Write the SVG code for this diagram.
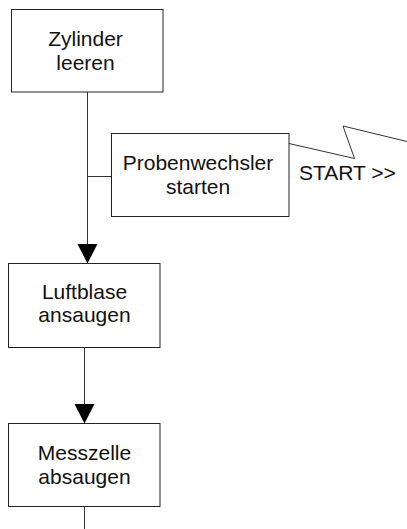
<svg xmlns="http://www.w3.org/2000/svg" width="407" height="529" viewBox="0 0 407 529">
  <style>
    .box { fill: #ffffff; stroke: #222222; stroke-width: 1; }
    .lbl { font-family: "Liberation Sans", Arial, sans-serif; font-size: 21px; fill: #111111; text-anchor: middle; }
    .line { fill: none; stroke: #333333; stroke-width: 1; }
    .head { fill: #000000; }
  </style>
  <rect width="407" height="529" fill="#ffffff"/>

  <!-- connectors -->
  <g id="connectors">
    <path class="line" d="M87.5 92 V245"/>
    <path class="line" d="M87.5 176.5 H111.5"/>
    <polygon class="head" points="77.5,244 97.5,244 87.5,263.5"/>
    <path class="line" d="M84.5 347.5 V405"/>
    <polygon class="head" points="74.5,404 94.5,404 84.5,423.5"/>
    <path class="line" d="M84.5 506.5 V529"/>
    <!-- signal line out of the sample changer -->
    <polyline class="line" points="289,143.5 354.5,158.5 343,126 407,141.5"/>
    <text class="lbl" x="299" y="180" style="text-anchor:start">START &gt;&gt;</text>
  </g>

  <g id="zylinder-leeren">
    <rect class="box" x="11.5" y="9.5" width="151.5" height="82.5"/>
    <text class="lbl" x="85.5" y="46">Zylinder</text>
    <text class="lbl" x="85.5" y="70">leeren</text>
  </g>

  <g id="probenwechsler-starten">
    <rect class="box" x="111.5" y="133.5" width="177.5" height="83"/>
    <text class="lbl" x="198" y="170">Probenwechsler</text>
    <text class="lbl" x="198" y="193.5">starten</text>
  </g>

  <g id="luftblase-ansaugen">
    <rect class="box" x="8.5" y="263.5" width="151.5" height="84"/>
    <text class="lbl" x="84.5" y="298.5">Luftblase</text>
    <text class="lbl" x="84.5" y="322">ansaugen</text>
  </g>

  <g id="messzelle-absaugen">
    <rect class="box" x="8.5" y="423.5" width="151.5" height="83"/>
    <text class="lbl" x="84.5" y="460">Messzelle</text>
    <text class="lbl" x="84.5" y="483.5">absaugen</text>
  </g>
</svg>
